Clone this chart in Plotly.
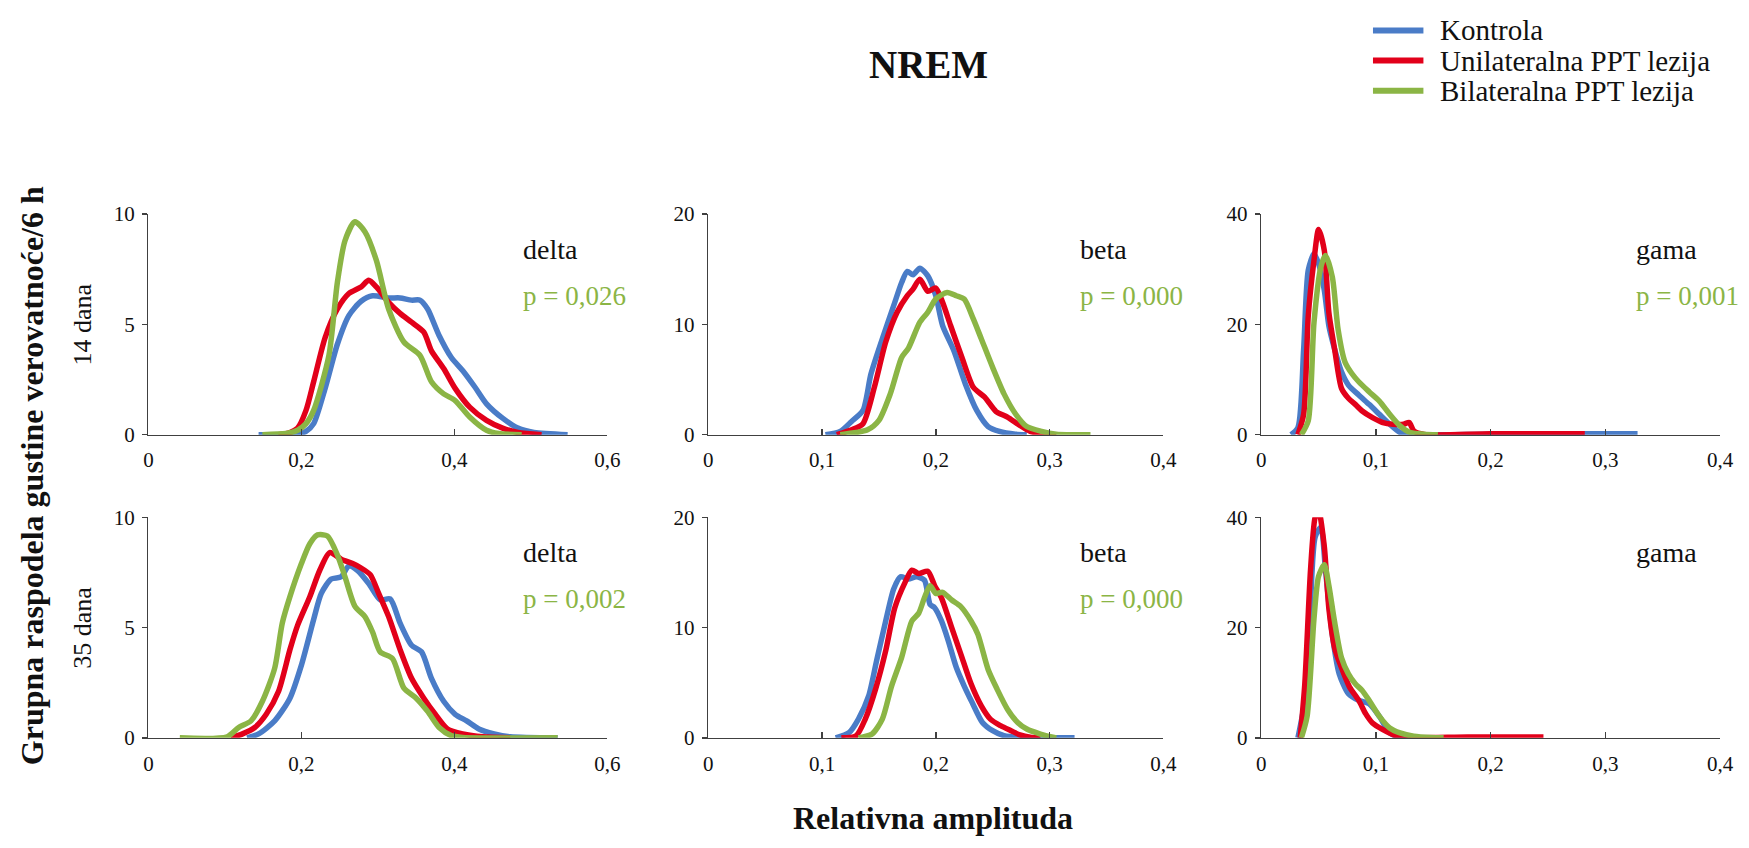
import plotly.graph_objects as go

# ---------------- data ----------------
series_names = ["Kontrola", "Unilateralna PPT lezija", "Bilateralna PPT lezija"]
series_colors = ["#4a7cc7", "#e2001a", "#8bb545"]

# 14 dana - delta
d14_k_x = [0.144, 0.19, 0.206, 0.216, 0.231, 0.247, 0.262, 0.278, 0.293, 0.314, 0.329, 0.344, 0.355, 0.365, 0.380, 0.396, 0.411, 0.427, 0.442, 0.463, 0.483, 0.504, 0.548]
d14_k_y = [0, 0.02, 0.15, 0.5, 2.1, 4.1, 5.4, 6.05, 6.3, 6.2, 6.2, 6.1, 6.1, 5.7, 4.5, 3.5, 2.9, 2.15, 1.4, 0.75, 0.3, 0.1, 0]
d14_u_x = [0.17, 0.185, 0.195, 0.206, 0.216, 0.231, 0.247, 0.262, 0.278, 0.288, 0.298, 0.314, 0.329, 0.344, 0.36, 0.37, 0.386, 0.401, 0.42, 0.442, 0.463, 0.483, 0.514]
d14_u_y = [0, 0.1, 0.3, 1.1, 2.4, 4.4, 5.7, 6.4, 6.7, 7.0, 6.7, 6.0, 5.5, 5.1, 4.65, 3.8, 3.0, 2.1, 1.25, 0.65, 0.3, 0.1, 0]
d14_b_x = [0.149, 0.18, 0.195, 0.206, 0.216, 0.236, 0.247, 0.257, 0.27, 0.283, 0.298, 0.314, 0.334, 0.355, 0.37, 0.386, 0.401, 0.42, 0.442, 0.458, 0.488]
d14_b_y = [0, 0.05, 0.2, 0.5, 1.1, 3.6, 6.9, 8.8, 9.65, 9.2, 7.9, 5.7, 4.2, 3.6, 2.4, 1.85, 1.55, 0.8, 0.2, 0.05, 0]

# 14 dana - beta
b14_k_x = [0.103, 0.116, 0.126, 0.136, 0.143, 0.153, 0.163, 0.17, 0.175, 0.18, 0.186, 0.193, 0.2, 0.206, 0.216, 0.226, 0.236, 0.246, 0.256, 0.27, 0.28]
b14_k_y = [0, 0.3, 1.2, 2.2, 5.5, 8.7, 11.7, 13.8, 14.8, 14.5, 15.1, 14.4, 12.6, 9.9, 7.6, 4.6, 2.2, 0.74, 0.3, 0.05, 0]
b14_u_x = [0.113, 0.126, 0.136, 0.146, 0.156, 0.166, 0.175, 0.18, 0.186, 0.193, 0.2, 0.206, 0.213, 0.223, 0.233, 0.243, 0.253, 0.263, 0.273, 0.283, 0.296, 0.306]
b14_u_y = [0, 0.44, 1.0, 4.3, 8.4, 11.1, 12.6, 13.2, 14.1, 13.0, 13.3, 12.0, 9.9, 7.0, 4.3, 3.4, 2.1, 1.6, 0.9, 0.3, 0.05, 0]
b14_b_x = [0.116, 0.14, 0.15, 0.16, 0.17, 0.176, 0.186, 0.193, 0.2, 0.21, 0.218, 0.225, 0.233, 0.24, 0.25, 0.26, 0.27, 0.28, 0.293, 0.306, 0.336]
b14_b_y = [0, 0.44, 1.3, 3.7, 7.0, 7.85, 10.2, 11.1, 12.3, 12.9, 12.6, 12.3, 10.5, 8.7, 6.1, 3.7, 1.9, 0.74, 0.3, 0.05, 0]

# 14 dana - gama
g14_k_x = [0.026, 0.032, 0.037, 0.041, 0.046, 0.05, 0.055, 0.059, 0.064, 0.07, 0.076, 0.085, 0.094, 0.103, 0.112, 0.121, 0.13, 0.2, 0.28, 0.328]
g14_k_y = [0, 1.3, 15.5, 29.8, 32.8, 31.0, 26.2, 19.7, 15.5, 11.4, 9.0, 7.2, 5.5, 3.7, 1.9, 0.4, 0.05, 0.1, 0.15, 0.15]
g14_u_x = [0.032, 0.037, 0.041, 0.046, 0.05, 0.055, 0.059, 0.064, 0.07, 0.076, 0.082, 0.088, 0.097, 0.106, 0.115, 0.124, 0.129, 0.133, 0.142, 0.2, 0.282]
g14_u_y = [0, 3.7, 21.5, 31.6, 37.2, 33.4, 22.1, 15.5, 8.4, 6.6, 5.5, 4.3, 3.1, 2.2, 1.9, 1.9, 2.2, 0.7, 0.05, 0.15, 0.15]
g14_b_x = [0.035, 0.041, 0.046, 0.052, 0.056, 0.062, 0.067, 0.073, 0.079, 0.085, 0.094, 0.103, 0.112, 0.121, 0.13, 0.142, 0.154]
g14_b_y = [0, 2.5, 20.3, 30.4, 32.5, 28.6, 19.1, 13.2, 11.1, 9.6, 7.8, 6.1, 3.7, 1.6, 0.4, 0.1, 0]

# 35 dana - delta
d35_k_x = [0.129, 0.144, 0.165, 0.185, 0.2, 0.216, 0.226, 0.239, 0.252, 0.262, 0.273, 0.288, 0.303, 0.316, 0.329, 0.344, 0.357, 0.37, 0.386, 0.401, 0.416, 0.432, 0.452, 0.473, 0.535]
d35_k_y = [0, 0.18, 0.77, 1.8, 3.3, 5.37, 6.55, 7.2, 7.3, 7.8, 7.6, 7.0, 6.26, 6.3, 5.2, 4.2, 3.9, 2.7, 1.66, 1.07, 0.77, 0.4, 0.18, 0.05, 0]
d35_u_x = [0.108, 0.123, 0.139, 0.154, 0.17, 0.185, 0.195, 0.211, 0.224, 0.237, 0.252, 0.267, 0.278, 0.29, 0.301, 0.314, 0.329, 0.344, 0.36, 0.375, 0.391, 0.411, 0.437, 0.473]
d35_u_y = [0, 0.18, 0.47, 1.07, 2.1, 4.0, 5.1, 6.4, 7.6, 8.4, 8.1, 7.9, 7.7, 7.4, 6.55, 5.5, 4.0, 2.7, 1.8, 1.07, 0.4, 0.18, 0.05, 0]
d35_b_x = [0.041, 0.103, 0.118, 0.134, 0.149, 0.165, 0.175, 0.185, 0.2, 0.211, 0.221, 0.234, 0.247, 0.257, 0.27, 0.283, 0.293, 0.303, 0.319, 0.334, 0.35, 0.365, 0.38, 0.396, 0.411, 0.535]
d35_b_y = [0, 0.05, 0.47, 0.77, 1.66, 3.15, 5.2, 6.4, 7.9, 8.8, 9.2, 9.15, 8.3, 7.3, 5.96, 5.5, 4.8, 3.9, 3.6, 2.25, 1.8, 1.2, 0.47, 0.1, 0.02, 0]

# 35 dana - beta
b35_k_x = [0.112, 0.124, 0.132, 0.141, 0.148, 0.156, 0.163, 0.169, 0.176, 0.183, 0.19, 0.195, 0.199, 0.205, 0.211, 0.218, 0.225, 0.232, 0.241, 0.25, 0.26, 0.272, 0.322]
b35_k_y = [0, 0.5, 1.7, 3.8, 7.0, 10.6, 13.5, 14.6, 14.4, 14.6, 14.3, 12.1, 11.8, 10.6, 8.8, 6.4, 4.7, 3.2, 1.4, 0.65, 0.2, 0.05, 0]
b35_u_x = [0.117, 0.13, 0.138, 0.147, 0.156, 0.164, 0.173, 0.179, 0.185, 0.193, 0.199, 0.205, 0.214, 0.222, 0.231, 0.24, 0.248, 0.257, 0.266, 0.274, 0.283, 0.292]
b35_u_y = [0, 0.2, 1.7, 4.4, 7.9, 11.8, 14.1, 15.2, 14.9, 15.1, 13.8, 12.7, 10.0, 7.6, 4.9, 2.9, 1.7, 1.1, 0.65, 0.27, 0.05, 0]
b35_b_x = [0.132, 0.144, 0.153, 0.161, 0.17, 0.179, 0.185, 0.19, 0.195, 0.2, 0.206, 0.214, 0.222, 0.231, 0.237, 0.246, 0.254, 0.263, 0.272, 0.28, 0.292, 0.303, 0.306]
b35_b_y = [0, 0.35, 1.7, 4.65, 7.3, 10.6, 11.3, 12.7, 13.8, 13.1, 13.2, 12.5, 11.9, 10.6, 9.4, 6.2, 4.4, 2.6, 1.4, 0.8, 0.35, 0.05, 0]

# 35 dana - gama
g35_k_x = [0.032, 0.038, 0.043, 0.047, 0.052, 0.056, 0.062, 0.068, 0.076, 0.085, 0.094, 0.103, 0.112, 0.121, 0.13]
g35_k_y = [0, 6.8, 24.6, 36.4, 38.2, 30.5, 18.7, 11.6, 8.0, 6.8, 6.2, 3.9, 0.9, 0.1, 0]
g35_u_x = [0.034, 0.038, 0.043, 0.047, 0.05, 0.055, 0.059, 0.064, 0.07, 0.077, 0.085, 0.091, 0.097, 0.106, 0.115, 0.124, 0.18, 0.246]
g35_u_y = [0, 9.8, 30.5, 40.0, 41.2, 34.7, 23.4, 16.3, 12.7, 9.2, 6.8, 4.4, 2.7, 1.5, 0.6, 0.1, 0.15, 0.15]
g35_b_x = [0.035, 0.04, 0.046, 0.05, 0.055, 0.059, 0.064, 0.07, 0.076, 0.082, 0.088, 0.094, 0.103, 0.112, 0.121, 0.133, 0.148, 0.159]
g35_b_y = [0, 3.9, 21.6, 29.3, 31.4, 27.6, 21.0, 14.5, 11.6, 9.8, 8.6, 6.8, 3.9, 1.8, 0.9, 0.3, 0.05, 0]

band_labels = ["delta", "beta", "gama"]
row_labels = ["14 dana", "35 dana"]
p_values = [["p = 0,026", "p = 0,000", "p = 0,001"], ["p = 0,002", "p = 0,000", None]]
x_max = [0.6, 0.4, 0.4]
x_dtick = [0.2, 0.1, 0.1]
y_max = [10, 20, 40]
y_dtick = [5, 10, 20]

panels = [
    [(d14_k_x, d14_k_y), (d14_u_x, d14_u_y), (d14_b_x, d14_b_y)],
    [(b14_k_x, b14_k_y), (b14_u_x, b14_u_y), (b14_b_x, b14_b_y)],
    [(g14_k_x, g14_k_y), (g14_u_x, g14_u_y), (g14_b_x, g14_b_y)],
    [(d35_k_x, d35_k_y), (d35_u_x, d35_u_y), (d35_b_x, d35_b_y)],
    [(b35_k_x, b35_k_y), (b35_u_x, b35_u_y), (b35_b_x, b35_b_y)],
    [(g35_k_x, g35_k_y), (g35_u_x, g35_u_y), (g35_b_x, g35_b_y)],
]

# ---------------- layout geometry ----------------
W, H = 1749, 848
col_px = [(145, 609), (711, 1171), (1270, 1734)]
row_px = [(208, 435), (520, 747)]
FONT = "Liberation Serif"
AXC = "#404040"
TXT = "#111111"

fig = go.Figure()
layout = dict(
    width=W, height=H,
    margin=dict(l=0, r=0, t=0, b=0),
    paper_bgcolor="white", plot_bgcolor="white",
    showlegend=False,
    separators=",.",
    font=dict(family=FONT, size=21, color=TXT),
    annotations=[], shapes=[],
)

for r in range(2):
    for c in range(3):
        idx = r * 3 + c + 1
        xa = "x" if idx == 1 else f"x{idx}"
        ya = "y" if idx == 1 else f"y{idx}"
        for s, (xs, ys) in enumerate(panels[idx - 1]):
            fig.add_trace(go.Scatter(
                x=xs, y=ys, mode="lines", name=series_names[s],
                line=dict(color=series_colors[s], width=5.5, shape="spline", smoothing=0.7),
                xaxis=xa, yaxis=ya, showlegend=False, hoverinfo="skip",
            ))
        x0, x1 = col_px[c]
        y0, y1 = row_px[r]
        layout["xaxis" + ("" if idx == 1 else str(idx))] = dict(
            domain=[x0 / W, x1 / W], anchor=ya, range=[0, x_max[c]],
            dtick=x_dtick[c], tick0=0, showgrid=False, zeroline=False,
            showline=True, linecolor=AXC, linewidth=1.5,
            ticks="inside", ticklen=6, tickcolor=AXC, tickwidth=1.5,
            ticklabelstandoff=6,
            tickfont=dict(family=FONT, size=21, color=TXT),
        )
        layout["yaxis" + ("" if idx == 1 else str(idx))] = dict(
            domain=[1 - y1 / H, 1 - y0 / H], anchor=xa, range=[0, y_max[c]],
            dtick=y_dtick[c], tick0=0, showgrid=False, zeroline=False,
            showline=True, linecolor=AXC, linewidth=1.5,
            ticks="outside", ticklen=5, tickcolor=AXC, tickwidth=1.5,
            ticklabelstandoff=3,
            tickfont=dict(family=FONT, size=21, color=TXT),
        )
        layout["annotations"].append(dict(
            text=band_labels[c], xref=f"{xa} domain", yref=f"{ya} domain",
            x=0.812, y=0.84, xanchor="left", yanchor="middle", showarrow=False,
            font=dict(family=FONT, size=28, color=TXT),
        ))
        if p_values[r][c]:
            layout["annotations"].append(dict(
                text=p_values[r][c], xref=f"{xa} domain", yref=f"{ya} domain",
                x=0.812, y=0.63, xanchor="left", yanchor="middle", showarrow=False,
                font=dict(family=FONT, size=27, color=series_colors[2]),
            ))

# row labels
for r in range(2):
    y0, y1 = row_px[r]
    layout["annotations"].append(dict(
        text=row_labels[r], xref="paper", yref="paper",
        x=78 / W, y=1 - (y0 + y1) / 2 / H, textangle=-90,
        xanchor="center", yanchor="middle", showarrow=False,
        font=dict(family=FONT, size=26, color=TXT),
    ))

# titles
layout["annotations"].append(dict(
    text="<b>NREM</b>", xref="paper", yref="paper", x=934 / W, y=1 - 54 / H,
    xanchor="center", yanchor="middle", showarrow=False,
    font=dict(family=FONT, size=39, color=TXT),
))
layout["annotations"].append(dict(
    text="<b>Relativna amplituda</b>", xref="paper", yref="paper", x=938 / W, y=1 - 829 / H,
    xanchor="center", yanchor="middle", showarrow=False,
    font=dict(family=FONT, size=32, color=TXT),
))
layout["annotations"].append(dict(
    text="<b>Grupna raspodela gustine verovatnoće/6 h</b>", xref="paper", yref="paper",
    x=27 / W, y=1 - 477 / H, textangle=-90,
    xanchor="center", yanchor="middle", showarrow=False,
    font=dict(family=FONT, size=32, color=TXT),
))

# legend (custom, compact like the reference)
leg_rows = [19, 50, 81]
for s in range(3):
    yy = 1 - leg_rows[s] / H
    layout["shapes"].append(dict(
        type="line", xref="paper", yref="paper", x0=1383 / W, x1=1434 / W, y0=yy, y1=yy,
        line=dict(color=series_colors[s], width=6),
    ))
    layout["annotations"].append(dict(
        text=series_names[s], xref="paper", yref="paper", x=1449 / W, y=yy,
        xanchor="left", yanchor="middle", showarrow=False,
        font=dict(family=FONT, size=29, color=TXT),
    ))

fig.update_layout(**layout)
fig.write_html(
    "out.html",
    config={"displayModeBar": False, "staticPlot": True},
    post_script="document.body.style.margin='0';document.body.style.overflow='hidden';",
)
